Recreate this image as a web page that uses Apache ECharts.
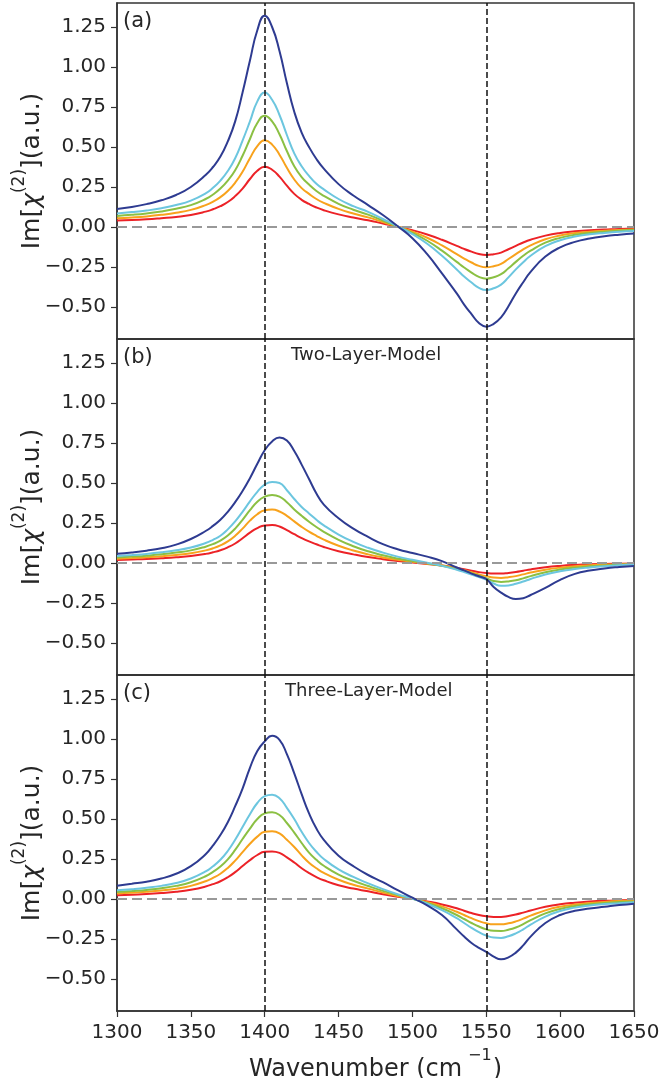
<!DOCTYPE html>
<html>
<head>
<meta charset="utf-8">
<title>Im chi(2) spectra</title>
<script src="https://cdn.jsdelivr.net/npm/echarts@6/dist/echarts.min.js"></script>
<style>
  html, body { margin: 0; padding: 0; background: #fff; }
  #chart { width: 663px; height: 1078px; }
</style>
</head>
<body>
<div id="chart"></div>
<script>
// x grid, cm^-1 (denser around the two bands)
var wavenumber = [1300, 1310, 1320, 1330, 1340, 1350, 1360, 1365, 1370, 1375, 1380, 1385,
  1390, 1395, 1400, 1405, 1410, 1415, 1420, 1425, 1430, 1435, 1440, 1450, 1460, 1470,
  1480, 1490, 1500, 1510, 1520, 1530, 1535, 1540, 1545, 1550, 1555, 1560, 1565, 1570,
  1575, 1580, 1590, 1600, 1610, 1620, 1630, 1640, 1650];

// (a)
var aRed    = [0.04, 0.043, 0.048, 0.055, 0.063, 0.075, 0.096, 0.111, 0.13, 0.156, 0.193, 0.24, 0.3, 0.352, 0.377, 0.358, 0.315, 0.258, 0.207, 0.17, 0.144, 0.122, 0.105, 0.079, 0.059, 0.042, 0.022, 0.002, -0.02, -0.047, -0.08, -0.118, -0.137, -0.154, -0.169, -0.175, -0.17, -0.16, -0.139, -0.118, -0.097, -0.08, -0.054, -0.037, -0.027, -0.02, -0.016, -0.012, -0.01];
var aOrange = [0.054, 0.059, 0.066, 0.076, 0.089, 0.107, 0.137, 0.158, 0.187, 0.225, 0.277, 0.345, 0.43, 0.505, 0.542, 0.515, 0.452, 0.37, 0.297, 0.243, 0.207, 0.175, 0.151, 0.113, 0.084, 0.06, 0.031, 0.002, -0.029, -0.067, -0.115, -0.17, -0.197, -0.222, -0.243, -0.252, -0.245, -0.23, -0.2, -0.17, -0.14, -0.115, -0.077, -0.053, -0.038, -0.029, -0.023, -0.018, -0.015];
var aGreen  = [0.069, 0.076, 0.085, 0.097, 0.114, 0.137, 0.175, 0.203, 0.24, 0.29, 0.355, 0.445, 0.55, 0.65, 0.696, 0.66, 0.58, 0.475, 0.38, 0.312, 0.265, 0.225, 0.195, 0.145, 0.108, 0.077, 0.04, 0.003, -0.037, -0.086, -0.148, -0.218, -0.253, -0.285, -0.312, -0.323, -0.314, -0.295, -0.258, -0.218, -0.18, -0.148, -0.098, -0.068, -0.049, -0.037, -0.029, -0.023, -0.019];
var aCyan   = [0.085, 0.093, 0.103, 0.117, 0.137, 0.165, 0.21, 0.245, 0.29, 0.35, 0.43, 0.54, 0.66, 0.785, 0.84, 0.795, 0.70, 0.575, 0.46, 0.38, 0.32, 0.27, 0.235, 0.175, 0.13, 0.095, 0.05, 0.004, -0.045, -0.105, -0.18, -0.265, -0.31, -0.347, -0.38, -0.394, -0.383, -0.36, -0.315, -0.265, -0.22, -0.18, -0.12, -0.083, -0.06, -0.046, -0.037, -0.03, -0.025];
var aBlue   = [0.113, 0.125, 0.143, 0.167, 0.2, 0.25, 0.325, 0.375, 0.44, 0.535, 0.66, 0.84, 1.04, 1.23, 1.32, 1.25, 1.10, 0.90, 0.72, 0.59, 0.50, 0.425, 0.365, 0.268, 0.197, 0.137, 0.075, 0.005, -0.07, -0.17, -0.29, -0.415, -0.485, -0.545, -0.60, -0.623, -0.605, -0.565, -0.495, -0.415, -0.345, -0.28, -0.185, -0.127, -0.093, -0.072, -0.058, -0.048, -0.04];

// (b) two-layer model
var bRed    = [0.019, 0.022, 0.025, 0.03, 0.036, 0.044, 0.057, 0.067, 0.08, 0.098, 0.122, 0.155, 0.19, 0.218, 0.235, 0.237, 0.228, 0.205, 0.18, 0.156, 0.135, 0.117, 0.1, 0.074, 0.054, 0.037, 0.024, 0.013, 0.003, -0.006, -0.016, -0.03, -0.039, -0.048, -0.057, -0.063, -0.066, -0.066, -0.062, -0.056, -0.048, -0.04, -0.027, -0.018, -0.012, -0.008, -0.006, -0.004, -0.003];
var bOrange = [0.027, 0.031, 0.036, 0.042, 0.05, 0.061, 0.079, 0.092, 0.11, 0.135, 0.17, 0.215, 0.265, 0.305, 0.33, 0.334, 0.322, 0.295, 0.26, 0.226, 0.196, 0.17, 0.146, 0.108, 0.078, 0.054, 0.035, 0.02, 0.007, -0.004, -0.016, -0.034, -0.045, -0.058, -0.071, -0.082, -0.091, -0.093, -0.089, -0.082, -0.071, -0.06, -0.042, -0.029, -0.02, -0.014, -0.01, -0.008, -0.006];
var bGreen  = [0.035, 0.04, 0.046, 0.054, 0.065, 0.079, 0.102, 0.118, 0.14, 0.172, 0.215, 0.27, 0.33, 0.383, 0.415, 0.425, 0.415, 0.38, 0.335, 0.295, 0.258, 0.225, 0.195, 0.145, 0.105, 0.073, 0.048, 0.028, 0.012, -0.002, -0.017, -0.038, -0.05, -0.064, -0.08, -0.095, -0.113, -0.118, -0.115, -0.108, -0.096, -0.082, -0.058, -0.041, -0.029, -0.021, -0.015, -0.011, -0.008];
var bCyan   = [0.044, 0.05, 0.057, 0.067, 0.08, 0.097, 0.125, 0.145, 0.17, 0.21, 0.26, 0.32, 0.385, 0.445, 0.49, 0.507, 0.50, 0.455, 0.40, 0.35, 0.31, 0.27, 0.235, 0.178, 0.132, 0.095, 0.065, 0.04, 0.02, 0.002, -0.018, -0.042, -0.056, -0.072, -0.088, -0.104, -0.128, -0.142, -0.14, -0.13, -0.116, -0.1, -0.072, -0.052, -0.038, -0.028, -0.02, -0.014, -0.01];
var bBlue   = [0.058, 0.066, 0.077, 0.092, 0.115, 0.15, 0.2, 0.232, 0.27, 0.32, 0.38, 0.45, 0.53, 0.62, 0.705, 0.76, 0.785, 0.765, 0.70, 0.615, 0.525, 0.435, 0.365, 0.28, 0.215, 0.163, 0.118, 0.086, 0.062, 0.04, 0.012, -0.028, -0.046, -0.066, -0.083, -0.1, -0.15, -0.185, -0.212, -0.225, -0.22, -0.2, -0.155, -0.105, -0.068, -0.047, -0.034, -0.025, -0.018];

// (c) three-layer model
var cRed    = [0.023, 0.027, 0.031, 0.037, 0.045, 0.058, 0.078, 0.093, 0.111, 0.136, 0.168, 0.206, 0.243, 0.275, 0.295, 0.297, 0.288, 0.26, 0.228, 0.192, 0.162, 0.137, 0.117, 0.086, 0.065, 0.048, 0.03, 0.014, 0.001, -0.015, -0.034, -0.058, -0.073, -0.088, -0.1, -0.108, -0.112, -0.112, -0.106, -0.097, -0.085, -0.072, -0.049, -0.033, -0.023, -0.016, -0.011, -0.008, -0.006];
var cOrange = [0.035, 0.039, 0.045, 0.053, 0.064, 0.082, 0.111, 0.132, 0.158, 0.194, 0.24, 0.293, 0.345, 0.39, 0.42, 0.423, 0.41, 0.37, 0.325, 0.273, 0.227, 0.192, 0.163, 0.12, 0.089, 0.065, 0.04, 0.019, 0.001, -0.02, -0.046, -0.08, -0.1, -0.12, -0.138, -0.152, -0.158, -0.158, -0.152, -0.14, -0.123, -0.104, -0.071, -0.048, -0.034, -0.025, -0.018, -0.013, -0.01];
var cGreen  = [0.044, 0.05, 0.057, 0.067, 0.082, 0.105, 0.142, 0.17, 0.203, 0.248, 0.307, 0.375, 0.44, 0.5, 0.535, 0.542, 0.525, 0.475, 0.415, 0.35, 0.29, 0.245, 0.208, 0.153, 0.114, 0.081, 0.051, 0.025, 0.002, -0.025, -0.058, -0.1, -0.125, -0.15, -0.172, -0.19, -0.199, -0.2, -0.192, -0.178, -0.157, -0.132, -0.09, -0.062, -0.044, -0.033, -0.025, -0.019, -0.015];
var cCyan   = [0.054, 0.061, 0.07, 0.082, 0.1, 0.128, 0.172, 0.205, 0.245, 0.3, 0.37, 0.45, 0.53, 0.6, 0.643, 0.652, 0.63, 0.57, 0.5, 0.42, 0.35, 0.295, 0.25, 0.185, 0.138, 0.098, 0.062, 0.03, 0.002, -0.03, -0.07, -0.12, -0.15, -0.18, -0.207, -0.228, -0.241, -0.243, -0.233, -0.215, -0.19, -0.16, -0.11, -0.075, -0.054, -0.041, -0.032, -0.026, -0.021];
var cBlue   = [0.083, 0.095, 0.108, 0.128, 0.158, 0.205, 0.28, 0.335, 0.40, 0.48, 0.58, 0.69, 0.82, 0.925, 0.985, 1.02, 0.995, 0.905, 0.785, 0.655, 0.535, 0.44, 0.37, 0.27, 0.205, 0.15, 0.105, 0.055, 0.008, -0.04, -0.1, -0.19, -0.235, -0.275, -0.305, -0.33, -0.36, -0.377, -0.365, -0.335, -0.29, -0.235, -0.15, -0.1, -0.074, -0.06, -0.049, -0.038, -0.029];

var yTicks = [-0.5, -0.25, 0, 0.25, 0.5, 0.75, 1.0, 1.25];
var peakLines = [1400, 1550];
var panelLabels = ['(a)', '(b)', '(c)'];
var modelNames = ['', 'Two-Layer-Model', 'Three-Layer-Model'];

var panels = [
  [aRed, aOrange, aGreen, aCyan, aBlue],
  [bRed, bOrange, bGreen, bCyan, bBlue],
  [cRed, cOrange, cGreen, cCyan, cBlue]
];
var lineColors = ['#ec2227', '#f8a21c', '#8bc043', '#6cc6df', '#2e3b91'];

var font = 'DejaVu Sans';
var ink = '#262626';
var panelTop = [3, 339, 675];
var panelH = 336;

function tickFmt(v) {
  return (v < 0 ? '\u2212' : '') + Math.abs(v).toFixed(2);
}

var grids = [], xAxes = [], yAxes = [], series = [], titles = [];

panels.forEach(function (curves, p) {
  var last = p === panels.length - 1;
  grids.push({
    left: 117, width: 517, top: panelTop[p], height: panelH,
    outerBoundsMode: 'none', containLabel: false,
    show: true, borderColor: '#333', borderWidth: 1.5, backgroundColor: 'transparent'
  });
  xAxes.push({
    gridIndex: p, type: 'value', min: 1300, max: 1650, interval: 50,
    axisLine: { show: true, onZero: false, lineStyle: { color: '#333', width: 1.5 } },
    axisTick: { show: last, length: 6, lineStyle: { color: '#333', width: 1.2 } },
    axisLabel: {
      show: last, fontSize: 20, color: ink, margin: 12, fontFamily: font,
      formatter: function (v) { return String(v); }
    },
    splitLine: { show: false },
    name: last ? '{a|Wavenumber (cm}{s|\u22121}{a|)}' : '',
    nameLocation: 'middle', nameGap: 37, nameMoveOverlap: false,
    nameTextStyle: {
      rich: {
        a: { fontSize: 24, color: ink, fontFamily: font, lineHeight: 34, verticalAlign: 'bottom' },
        s: { fontSize: 16, color: ink, fontFamily: font, lineHeight: 18, verticalAlign: 'top', padding: [0, 1, 0, 6] }
      }
    }
  });
  yAxes.push({
    gridIndex: p, type: 'value', min: -0.70, max: 1.40,
    axisLine: { show: true, lineStyle: { color: '#333', width: 1.5 } },
    axisTick: { show: true, length: 6, customValues: yTicks, lineStyle: { color: '#333', width: 1.2 } },
    axisLabel: { customValues: yTicks, formatter: tickFmt, fontSize: 20, color: ink, margin: 11, fontFamily: font },
    splitLine: { show: false },
    name: '{a|Im[}{b|\u03c7}{s|(2)}{a|](a.u.)}',
    nameLocation: 'middle', nameRotate: 90, nameGap: 72, nameMoveOverlap: false,
    nameTextStyle: {
      rich: {
        a: { fontSize: 25, color: ink, fontFamily: font, lineHeight: 34, verticalAlign: 'bottom' },
        b: { fontSize: 25, color: ink, fontFamily: font, fontStyle: 'italic', lineHeight: 34, verticalAlign: 'bottom' },
        s: { fontSize: 17, color: ink, fontFamily: font, lineHeight: 18, verticalAlign: 'top' }
      }
    }
  });

  curves.forEach(function (vals, k) {
    var s = {
      type: 'line', xAxisIndex: p, yAxisIndex: p,
      data: wavenumber.map(function (x, i) { return [x, vals[i]]; }),
      smooth: 0.5, showSymbol: false, silent: true,
      lineStyle: { color: lineColors[k], width: 2 },
      itemStyle: { color: lineColors[k] }
    };
    if (k === 0) {
      // zero baseline
      s.markLine = {
        silent: true, symbol: ['none', 'none'], label: { show: false }, animation: false,
        lineStyle: { color: '#999', type: [10, 5], width: 2 },
        data: [{ yAxis: 0, lineStyle: { color: '#999', type: [10, 5], width: 2 } }]
      };
    }
    if (k === curves.length - 1) {
      s.markLine = {
        silent: true, symbol: ['none', 'none'], label: { show: false }, animation: false,
        lineStyle: { color: '#111', type: [6, 3], width: 1.5 },
        data: peakLines.map(function (x) { return { xAxis: x }; })
      };
    }
    series.push(s);
  });

  titles.push({
    text: panelLabels[p], left: 123, top: panelTop[p] + 8, padding: 0,
    textStyle: { fontSize: 21, fontWeight: 'normal', color: ink, fontFamily: font }
  });
  if (modelNames[p]) {
    titles.push({
      text: modelNames[p], left: p === 1 ? 291 : 285, top: panelTop[p] + 7, padding: 0,
      textStyle: { fontSize: 18, fontWeight: 'normal', color: ink, fontFamily: font }
    });
  }
});

var chart = echarts.init(document.getElementById('chart'));
chart.setOption({
  animation: false,
  backgroundColor: '#fff',
  textStyle: { fontFamily: font },
  title: titles,
  grid: grids,
  xAxis: xAxes,
  yAxis: yAxes,
  series: series
});
</script>
</body>
</html>
